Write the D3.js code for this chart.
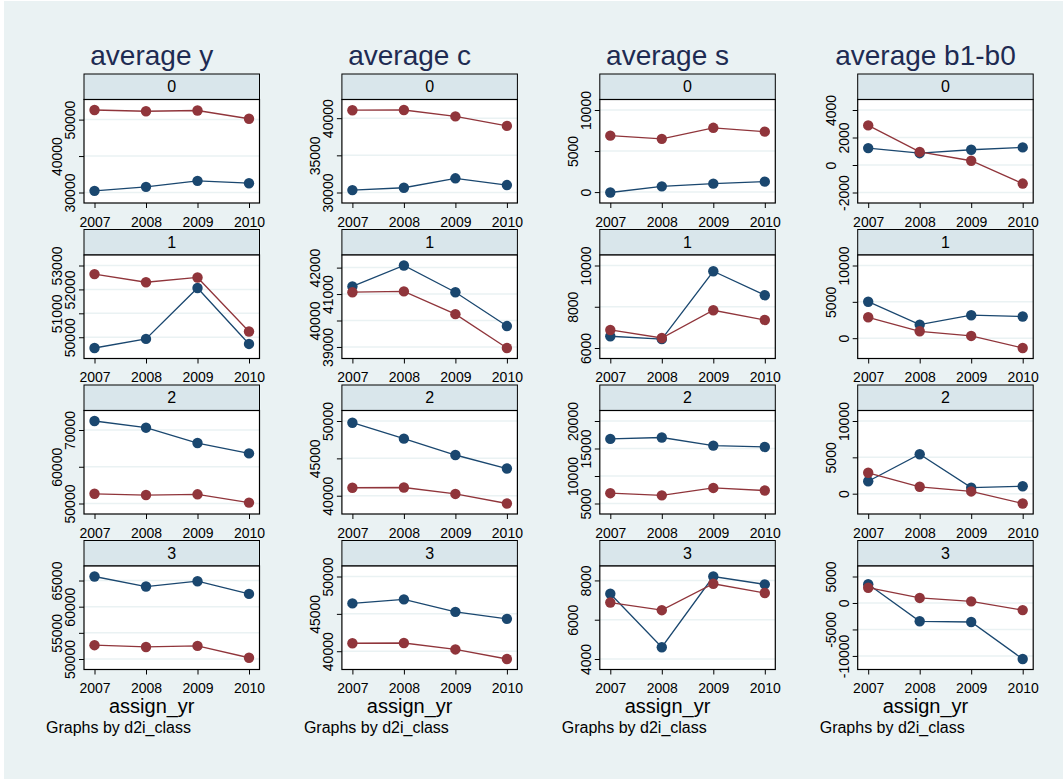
<!DOCTYPE html>
<html>
<head>
<meta charset="utf-8">
<script src="https://cdn.jsdelivr.net/npm/d3@7/dist/d3.min.js"></script>
<style>
  html, body { margin: 0; padding: 0; background: #ffffff; }
  svg { display: block; font-family: "Liberation Sans", Arial, Helvetica, sans-serif; }
</style>
</head>
<body>
<svg id="chart" width="1063" height="779"></svg>
<script>
// ---- data -----------------------------------------------------------
const years = [2007, 2008, 2009, 2010];
const classLabels = ["0", "1", "2", "3"];
const measureTitles = ["average y", "average c", "average s", "average b1-b0"];

// per-class averages (blue) and all-class averages (red), one row per d2i_class
const avgYClass = [
  [30450, 31550, 33200, 32550],
  [49550, 49930, 52060, 49720],
  [72450, 70630, 66450, 63640],
  [65770, 63850, 64870, 62440]
];
const avgYAll = [52640, 52300, 52500, 50240];
const avgYTicks = [
  [30000, 40000, 50000],
  [50000, 51000, 52000, 53000],
  [50000, 60000, 70000],
  [50000, 55000, 60000, 65000]
];

const avgCClass = [
  [30320, 30640, 31910, 31000],
  [41290, 42080, 41070, 39790],
  [49770, 47640, 45450, 43640],
  [46400, 46940, 45270, 44330]
];
const avgCAll = [41070, 41100, 40240, 38960];
const avgCTicks = [
  [30000, 35000, 40000],
  [39000, 40000, 41000, 42000],
  [40000, 45000, 50000],
  [40000, 45000, 50000]
];

const avgSClass = [
  [-50, 700, 1030, 1270],
  [6570, 6430, 9720, 8560],
  [16750, 17000, 15530, 15280],
  [7320, 4600, 8200, 7800]
];
const avgSAll = [6875, 6485, 7830, 7360];
const avgSTicks = [
  [0, 5000, 10000],
  [6000, 8000, 10000],
  [5000, 10000, 15000, 20000],
  [4000, 6000, 8000]
];

const avgBClass = [
  [1230, 860, 1110, 1280],
  [5020, 1860, 3160, 2980],
  [1710, 5420, 830, 1020],
  [3530, -3460, -3590, -10580]
];
const avgBAll = [2880, 950, 310, -1350];
const avgBTicks = [
  [-2000, 0, 2000, 4000],
  [0, 5000, 10000],
  [0, 5000, 10000],
  [-10000, -5000, 0, 5000]
];

const classSeries = [avgYClass, avgCClass, avgSClass, avgBClass];
const allSeries = [avgYAll, avgCAll, avgSAll, avgBAll];
const tickSets = [avgYTicks, avgCTicks, avgSTicks, avgBTicks];

// ---- layout & style -------------------------------------------------
const colLeft0 = 84, colPitch = 257.9;
const rowTop0 = 99.5, rowPitch = 155.5;
const plotW = 175.5, plotH = 103.5, stripH = 25.5;
const inset = 10.5;           // plot-region margin inside the frame
const blue = "#1a476f", red = "#90353b";
const bg = "#eaf2f3", stripFill = "#d9e6eb", titleColor = "#1e2b52";
const fmt = d => String(Math.round(d));   // plain hyphen for negatives

const svg = d3.select("#chart");
svg.append("rect").attr("x", 4).attr("y", 1).attr("width", 1063).attr("height", 779).attr("fill", bg);

measureTitles.forEach((title, c) => {
  const left = colLeft0 + c * colPitch;
  const centre = left + plotW / 2 - 20;

  svg.append("text")
    .attr("x", centre).attr("y", 65)
    .attr("text-anchor", "middle")
    .attr("font-size", 28).attr("fill", titleColor)
    .text(title);

  classLabels.forEach((lab, r) => {
    const top = rowTop0 + r * rowPitch;
    const g = svg.append("g").attr("transform", `translate(${left},${top})`);

    const ticks = tickSets[c][r];
    const vals = classSeries[c][r].concat(allSeries[c]);
    const ext = d3.extent(vals.concat(ticks));

    const x = d3.scalePoint().domain(years).range([inset, plotW - inset]);
    const y = d3.scaleLinear().domain(ext).range([plotH - inset, inset]);

    // strip
    g.append("rect")
      .attr("x", 0).attr("y", -stripH).attr("width", plotW).attr("height", stripH)
      .attr("fill", stripFill).attr("stroke", "#000").attr("stroke-width", 1);
    g.append("text")
      .attr("x", plotW / 2).attr("y", -stripH / 2)
      .attr("text-anchor", "middle").attr("dominant-baseline", "central")
      .attr("font-size", 16).attr("fill", "#000")
      .text(lab);

    // plot region
    g.append("rect")
      .attr("x", 0).attr("y", 0).attr("width", plotW).attr("height", plotH)
      .attr("fill", "#ffffff");

    // gridlines
    g.selectAll(".grid").data(ticks).enter().append("line")
      .attr("x1", 0).attr("x2", plotW + 1.5)
      .attr("y1", d => y(d)).attr("y2", d => y(d))
      .attr("stroke", bg).attr("stroke-width", 1.5);

    // y axis
    const ya = g.append("g")
      .call(d3.axisLeft(y).tickValues(ticks).tickSize(5).tickFormat(fmt))
      .attr("font-family", null).attr("font-size", null);
    ya.select(".domain").remove();
    ya.selectAll("line").attr("stroke", "#000");
    ya.selectAll("text")
      .attr("x", null).attr("dy", null)
      .attr("text-anchor", "middle")
      .attr("font-size", 14).attr("fill", "#000")
      .attr("transform", (d, i) => `translate(${i % 2 === 0 ? -9 : -22},0) rotate(-90)`);

    // x axis
    const xa = g.append("g").attr("transform", `translate(0,${plotH})`)
      .call(d3.axisBottom(x).tickSize(5).tickPadding(9).tickFormat(fmt))
      .attr("font-family", null).attr("font-size", null);
    xa.select(".domain").remove();
    xa.selectAll("line").attr("stroke", "#000");
    xa.selectAll("text").attr("font-size", 14).attr("fill", "#000");

    // frame
    g.append("rect")
      .attr("x", 0).attr("y", 0).attr("width", plotW).attr("height", plotH)
      .attr("fill", "none").attr("stroke", "#000").attr("stroke-width", 1.2);

    // series: class average first, overall average on top
    const line = d3.line().x((d, i) => x(years[i])).y(d => y(d));
    [[classSeries[c][r], blue], [allSeries[c], red]].forEach(([s, col]) => {
      g.append("path").attr("d", line(s))
        .attr("fill", "none").attr("stroke", col).attr("stroke-width", 1.3);
      g.selectAll(null).data(s).enter().append("circle")
        .attr("cx", (d, i) => x(years[i])).attr("cy", d => y(d))
        .attr("r", 5.2).attr("fill", col);
    });
  });

  svg.append("text")
    .attr("x", centre).attr("y", 713)
    .attr("text-anchor", "middle").attr("font-size", 20).attr("fill", "#000")
    .text("assign_yr");

  svg.append("text")
    .attr("x", left - 38).attr("y", 733)
    .attr("font-size", 16).attr("fill", "#000")
    .text("Graphs by d2i_class");
});
</script>
</body>
</html>
